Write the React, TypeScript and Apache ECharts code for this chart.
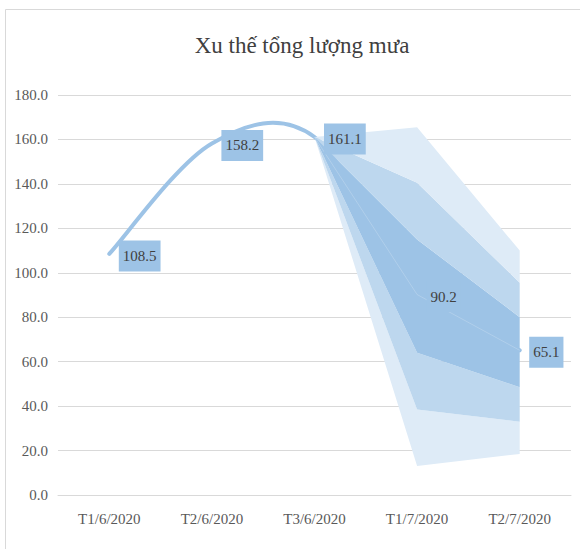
import React, { useEffect, useRef } from "react";
import * as echarts from "echarts";

const categories = ["T1/6/2020", "T2/6/2020", "T3/6/2020", "T1/7/2020", "T2/7/2020"];
const observed = [108.5, 158.2, 161.1];
const forecast = [90.2, 65.1];
const yTicks = { min: 0, max: 180, interval: 20 };

// fan (uncertainty bands), starting at T3/6/2020
const fanStart = 2;
const outerLow = [161.1, 13.0, 18.5];
const midLow = [161.1, 38.5, 33.0];
const innerLow = [161.1, 64.0, 48.5];
const innerHigh = [161.1, 115.0, 80.0];
const midHigh = [161.1, 140.5, 95.5];
const outerHigh = [161.1, 165.5, 110.0];

const SERIF = "'Liberation Serif', 'Times New Roman', serif";
const LIGHT = "#DEEBF7";
const MID = "#BDD7EE";
const DARK = "#9DC3E6";

function pad(arr: (number | string)[]) {
  return [...Array(fanStart).fill("-"), ...arr];
}

export default function App() {
  const ref = useRef<HTMLDivElement>(null);
  useEffect(() => {
    document.body.style.margin = "0";
    const chart = echarts.init(ref.current!, undefined, { renderer: "svg" });
    const allValues = [...observed, ...forecast];
    const layers = [outerLow, midLow, innerLow, innerHigh, midHigh, outerHigh];
    const layerColors = [null, LIGHT, MID, DARK, MID, LIGHT];
    const bandSeries = layers.map((layer, i) => {
      const vals =
        i === 0 ? layer : layer.map((v, j) => +(v - layers[i - 1][j]).toFixed(2));
      const s: any = {
        type: "line",
        stack: "fan",
        data: pad(vals),
        symbol: "none",
        silent: true,
        z: 2,
        lineStyle: { width: 0, opacity: 0 },
      };
      if (layerColors[i]) s.areaStyle = { color: layerColors[i], opacity: 1 };
      return s;
    });

    // Excel-like smoothed line (Catmull-Rom through the points, via the axes' scales)
    const smoothLine = {
      type: "custom",
      z: 1,
      silent: true,
      clip: false,
      data: [[0, allValues[0]]],
      renderItem: (_params: any, api: any) => {
        const pts = allValues.map((v, i) => api.coord([i, v]));
        let d = `M${pts[0][0]},${pts[0][1]}`;
        for (let i = 0; i < pts.length - 1; i++) {
          const p0 = pts[i - 1] || pts[i];
          const p1 = pts[i];
          const p2 = pts[i + 1];
          const p3 = pts[i + 2] || pts[i + 1];
          const c1x = p1[0] + (p2[0] - p0[0]) / 6;
          const c1y = p1[1] + (p2[1] - p0[1]) / 6;
          const c2x = p2[0] - (p3[0] - p1[0]) / 6;
          const c2y = p2[1] - (p3[1] - p1[1]) / 6;
          d += ` C${c1x},${c1y} ${c2x},${c2y} ${p2[0]},${p2[1]}`;
        }
        return {
          type: "path",
          shape: { pathData: d },
          style: { fill: "none", stroke: DARK, lineWidth: 4, lineCap: "round", lineJoin: "round" },
        };
      },
    };

    chart.setOption({
      animation: false,
      title: {
        text: "Xu thế tổng lượng mưa",
        left: 297,
        textAlign: "center",
        top: 29,
        textStyle: { fontFamily: SERIF, fontSize: 23, fontWeight: "normal", color: "#404040" },
      },
      graphic: [
        {
          type: "rect",
          z: -10,
          shape: { x: 5.5, y: 9.5, width: 700, height: 700 },
          style: { fill: "none", stroke: "#d9d9d9", lineWidth: 1 },
        },
      ],
      grid: { left: 58, right: 9, top: 95, bottom: 54 },
      xAxis: {
        type: "category",
        data: categories,
        boundaryGap: true,
        axisLine: { lineStyle: { color: "#d9d9d9", width: 1 } },
        axisTick: { show: false },
        axisLabel: { fontFamily: SERIF, fontSize: 15, color: "#595959", margin: 16 },
      },
      yAxis: {
        type: "value",
        min: yTicks.min,
        max: yTicks.max,
        interval: yTicks.interval,
        axisLine: { show: false },
        axisTick: { show: false },
        splitLine: { lineStyle: { color: "#d9d9d9", width: 1 } },
        axisLabel: {
          fontFamily: SERIF,
          fontSize: 15,
          color: "#595959",
          margin: 10,
          formatter: (v: number) => v.toFixed(1),
        },
      },
      series: [
        smoothLine,
        ...bandSeries,
        {
          type: "line",
          data: pad([observed[observed.length - 1], ...forecast]),
          symbol: "none",
          silent: true,
          z: 3,
          lineStyle: { color: "rgba(255,255,255,0.2)", width: 1 },
        },
        {
          type: "line",
          data: allValues,
          symbol: "circle",
          symbolSize: 1,
          showSymbol: true,
          silent: true,
          z: 10,
          itemStyle: { color: "rgba(0,0,0,0)" },
          lineStyle: { width: 0, opacity: 0 },
          label: {
            show: true,
            position: "right",
            distance: 9,
            offset: [0, 2],
            fontFamily: SERIF,
            fontSize: 15,
            color: "#404040",
            backgroundColor: DARK,
            padding: [8, 4],
            formatter: (p: any) => Number(p.value).toFixed(1),
          },
        },
      ],
    });
    return () => chart.dispose();
  }, []);
  return (
    <div
      ref={ref}
      style={{ position: "absolute", left: 0, top: 0, width: 580, height: 549, background: "#fff" }}
    />
  );
}
